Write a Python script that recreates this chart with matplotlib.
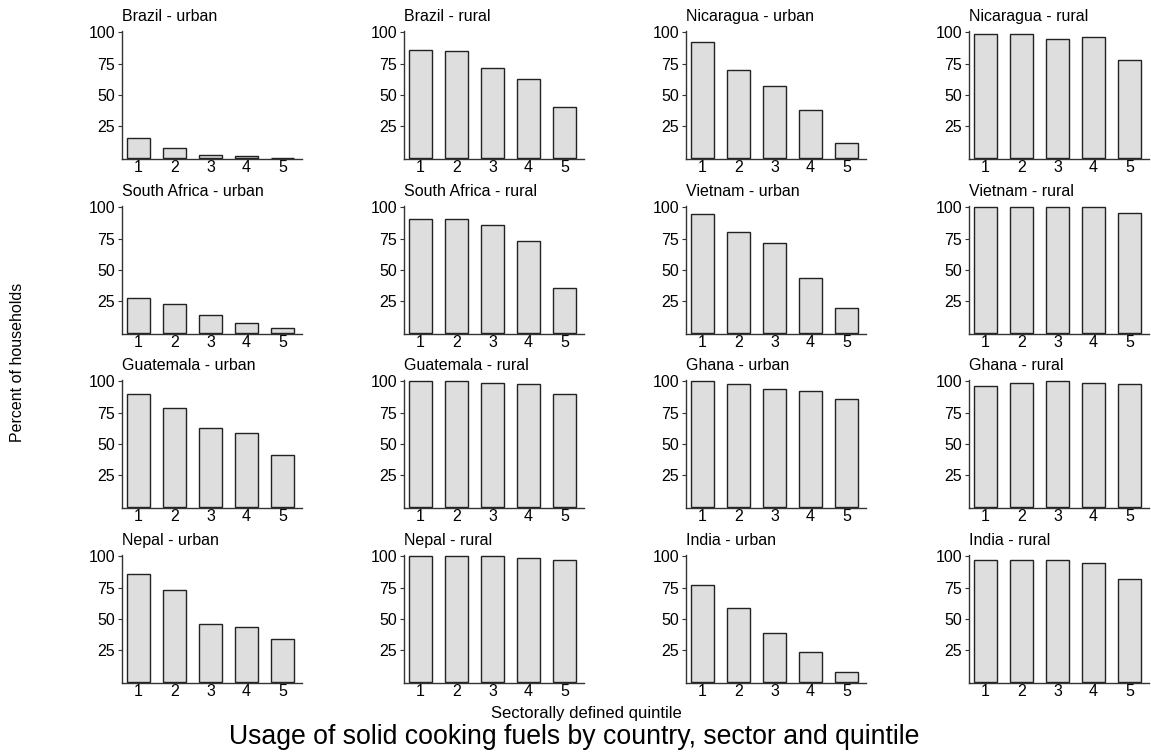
import matplotlib
matplotlib.use("Agg")
import matplotlib.pyplot as plt

plt.rcParams['font.family'] = ['Liberation Sans', 'DejaVu Sans']

quintiles = [1, 2, 3, 4, 5]

# panel order: row by row, left to right
panel_titles = [
    "Brazil - urban", "Brazil - rural", "Nicaragua - urban", "Nicaragua - rural",
    "South Africa - urban", "South Africa - rural", "Vietnam - urban", "Vietnam - rural",
    "Guatemala - urban", "Guatemala - rural", "Ghana - urban", "Ghana - rural",
    "Nepal - urban", "Nepal - rural", "India - urban", "India - rural",
]

brazil_urban = [16, 8, 2.4, 1.5, 0.1]
brazil_rural = [86, 85, 71.5, 62.5, 40.5]
nicaragua_urban = [92, 70, 57, 38, 12]
nicaragua_rural = [99, 99, 95, 96, 78]
south_africa_urban = [28, 23, 14, 8, 4]
south_africa_rural = [91, 91, 85.5, 73, 36]
vietnam_urban = [95, 80.5, 71.5, 44, 20]
vietnam_rural = [100, 100, 100, 100, 95.5]
guatemala_urban = [90, 79, 63, 59, 41]
guatemala_rural = [100, 100, 99, 98, 90]
ghana_urban = [100, 98, 94, 92, 86]
ghana_rural = [96, 99, 100, 99, 98]
nepal_urban = [86, 73, 46, 44, 34]
nepal_rural = [100, 100, 100, 99, 97]
india_urban = [77, 59, 39, 24, 8]
india_rural = [97, 97, 97, 95, 82]

panel_values = [
    brazil_urban, brazil_rural, nicaragua_urban, nicaragua_rural,
    south_africa_urban, south_africa_rural, vietnam_urban, vietnam_rural,
    guatemala_urban, guatemala_rural, ghana_urban, ghana_rural,
    nepal_urban, nepal_rural, india_urban, india_rural,
]

W, H = 1151, 754
fig = plt.figure(figsize=(W / 100, H / 100), dpi=100)

col_left = [122, 404, 686, 969]     # pixel x of the y-axis
row_bottom = [159, 334, 508, 683]   # pixel y of the x-axis
pw, ph = 180, 128

for i, (title, vals) in enumerate(zip(panel_titles, panel_values)):
    r, c = divmod(i, 4)
    x0 = col_left[c] / W
    y0 = 1 - row_bottom[r] / H
    ax = fig.add_axes([x0, y0, pw / W, ph / H])
    ax.bar(quintiles, vals, width=0.64, color='#dedede', edgecolor='#222222', linewidth=1.0)
    ax.set_xlim(0.54, 5.54)
    ax.set_ylim(-1, 101)
    ax.set_yticks([25, 50, 75, 100])
    ax.set_xticks(quintiles)
    for s in ['top', 'right']:
        ax.spines[s].set_visible(False)
    for s in ['left', 'bottom']:
        ax.spines[s].set_color('#333333')
        ax.spines[s].set_linewidth(1.0)
    ax.tick_params(axis='y', length=3, width=0.8, color='#333333', pad=2, labelsize=11.5)
    ax.tick_params(axis='x', length=0, pad=0.5, labelsize=11.5)
    ax.set_title(title, loc='left', fontsize=11.5, pad=7)

fig.text(18 / W, 1 - 362 / H, "Percent of households", rotation=90,
         ha='center', va='center', fontsize=11.5)
fig.text(586 / W, 1 - 718 / H, "Sectorally defined quintile",
         ha='center', va='baseline', fontsize=12)
fig.text(574 / W, 1 - 744 / H, "Usage of solid cooking fuels by country, sector and quintile",
         ha='center', va='baseline', fontsize=19.2)

fig.savefig("out.png", dpi=100)
